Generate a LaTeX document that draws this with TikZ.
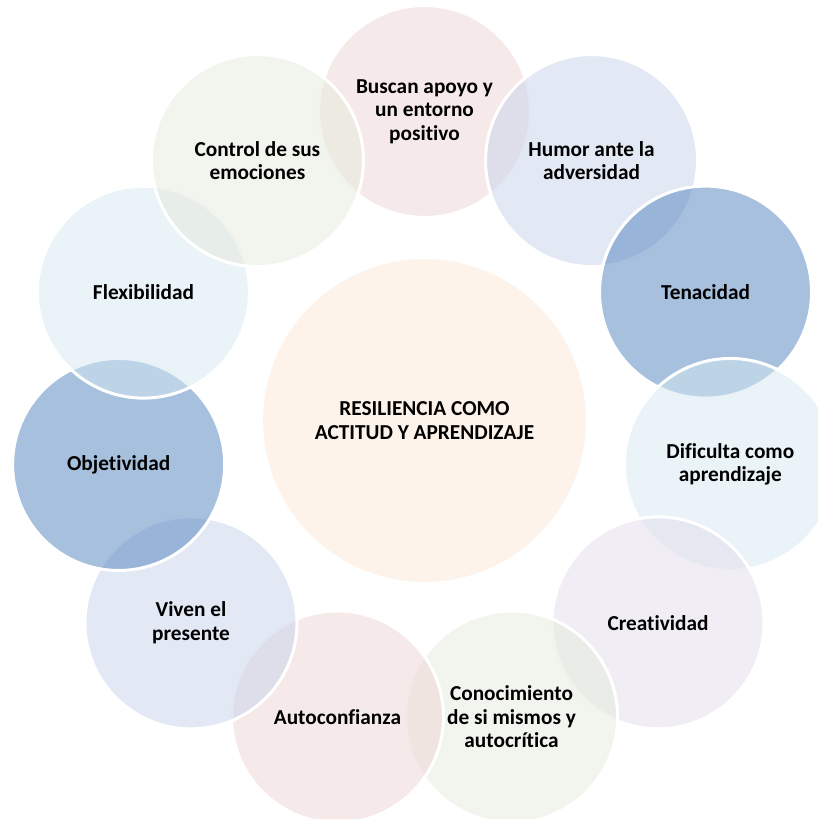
\documentclass[tikz,border=0pt]{standalone}
\usepackage{fontspec}
\setmainfont[Ligatures=NoCommon]{Carlito}
\usepackage{xcolor}
\usepackage{tikz}

\definecolor{rosa}{HTML}{EDD3D3}
\definecolor{azulclaro}{HTML}{C5D3EB}
\definecolor{azul}{HTML}{4F81BD}
\definecolor{celeste}{HTML}{D5E7EF}
\definecolor{lila}{HTML}{E1DDE9}
\definecolor{verde}{HTML}{E5EBDD}
\definecolor{durazno}{HTML}{FBE7D5}

\tikzset{
  ring/.style={circle, draw=white, line width=3pt, fill opacity=0.5, text opacity=1,
    minimum size=212pt, inner sep=0pt, align=center,
    font=\bfseries\fontsize{21.3}{23.5}\selectfont},
  core/.style={ring, minimum size=326pt}
}

\begin{document}
\begin{tikzpicture}[x=1pt, y=1pt]

        \useasboundingbox (-424.5,-398.5) rectangle (392.5,420.5);

        % Central idea
        \node[core, fill=durazno] (resiliencia) at (0,0) {RESILIENCIA COMO\\ACTITUD Y APRENDIZAJE};

        % Outer ring, clockwise from the top
        \node[ring, fill=rosa] (apoyo) at (90:309) {Buscan apoyo y\\un entorno\\positivo};
        \node[ring, fill=azulclaro] (humor) at (57.27:309) {Humor ante la\\adversidad};
        \node[ring, fill=azul] (tenacidad) at (24.55:309) {Tenacidad};
        \node[ring, fill=celeste] (dificulta) at (-8.18:309) {Dificulta como\\aprendizaje};
        \node[ring, fill=lila] (creatividad) at (-40.91:309) {Creatividad};
        \node[ring, fill=verde] (conocimiento) at (-73.64:309) {Conocimiento\\de si mismos y\\autocrítica};
        \node[ring, fill=rosa] (autoconfianza) at (-106.36:309) {Autoconfianza};
        \node[ring, fill=azulclaro] (presente) at (-139.09:309) {Viven el\\presente};
        \node[ring, fill=azul] (objetividad) at (-171.82:309) {Objetividad};
        \node[ring, fill=celeste] (flexibilidad) at (155.45:309) {Flexibilidad};
        \node[ring, fill=verde] (control) at (122.73:309) {Control de sus\\emociones};

    \end{tikzpicture}
\end{document}
